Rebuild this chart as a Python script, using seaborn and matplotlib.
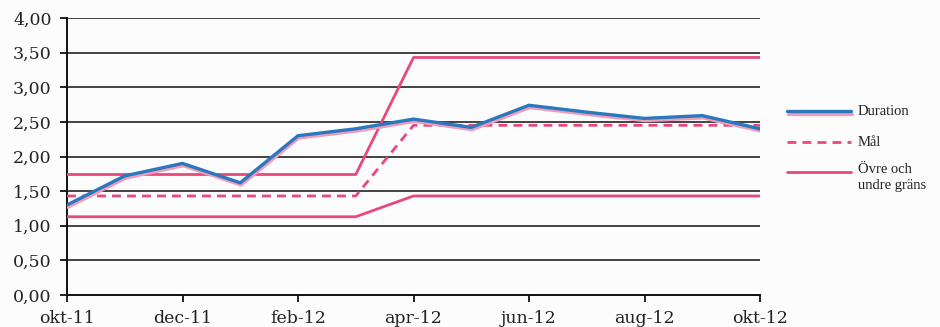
import matplotlib
matplotlib.use("Agg")
import matplotlib.pyplot as plt
import matplotlib.patheffects as pe
from matplotlib.lines import Line2D
from matplotlib.ticker import FuncFormatter, MultipleLocator
import seaborn as sns
import pandas as pd

# Monthly series, Oct 2011 - Oct 2012
months = ["okt-11", "nov-11", "dec-11", "jan-12", "feb-12", "mar-12", "apr-12",
          "maj-12", "jun-12", "jul-12", "aug-12", "sep-12", "okt-12"]
duration = [1.30, 1.72, 1.90, 1.62, 2.30, 2.40, 2.54, 2.42, 2.74, 2.64, 2.55, 2.59, 2.40]
mal = [1.43, 1.43, 1.43, 1.43, 1.43, 1.43, 2.45, 2.45, 2.45, 2.45, 2.45, 2.45, 2.45]
upper = [1.74, 1.74, 1.74, 1.74, 1.74, 1.74, 3.43, 3.43, 3.43, 3.43, 3.43, 3.43, 3.43]
lower = [1.13, 1.13, 1.13, 1.13, 1.13, 1.13, 1.43, 1.43, 1.43, 1.43, 1.43, 1.43, 1.43]
tick_months = ["okt-11", "dec-11", "feb-12", "apr-12", "jun-12", "aug-12", "okt-12"]
legend_labels = ["Duration", "Mål", "Övre och\nundre gräns"]

df = pd.DataFrame({"pos": range(len(months)), "month": months,
                   "duration": duration, "mal": mal, "upper": upper, "lower": lower})

sns.set_theme(style="white")
plt.rcParams["font.family"] = ["DejaVu Serif", "DejaVu Sans"]

PINK = "#e8487e"
BLUE = "#2a78be"
SHADOW = "#f29ab9"

fig = plt.figure(figsize=(9.4, 3.27), dpi=100)
fig.patch.set_facecolor("#fcfcfd")
ax = fig.add_axes([67 / 940, 1 - 295 / 327, (760 - 67) / 940, (295 - 18) / 327])
ax.set_facecolor("#fcfcfd")

# horizontal grid
for v in [0.5 * k for k in range(1, 9)]:
    ax.axhline(v, color="#111111", lw=1.1, zorder=1)

sns.lineplot(data=df, x="pos", y="upper", ax=ax, color=PINK, lw=2.0, zorder=3)
sns.lineplot(data=df, x="pos", y="lower", ax=ax, color=PINK, lw=2.0, zorder=3)
sns.lineplot(data=df, x="pos", y="mal", ax=ax, color=PINK, lw=2.0, zorder=3,
             dashes=False, linestyle=(0, (3.2, 2.2)))
sns.lineplot(data=df, x="pos", y="duration", ax=ax, color=BLUE, lw=2.4, zorder=4,
             path_effects=[pe.SimpleLineShadow(offset=(0.6, -1.6), shadow_color=SHADOW,
                                               alpha=1.0, linewidth=2.4),
                           pe.Normal()])

ax.set_xlim(0, len(months) - 1)
ax.set_ylim(0, 4)
ax.yaxis.set_major_locator(MultipleLocator(0.5))
ax.yaxis.set_major_formatter(FuncFormatter(lambda v, _: f"{v:.2f}".replace(".", ",")))
ax.set_xticks([months.index(m) for m in tick_months])
ax.set_xticklabels(tick_months)
ax.set_xlabel("")
ax.set_ylabel("")

for side in ["top", "right"]:
    ax.spines[side].set_visible(False)
for side in ["left", "bottom"]:
    ax.spines[side].set_color("#111111")
    ax.spines[side].set_linewidth(1.4)
ax.tick_params(axis="both", which="major", direction="out", length=5, width=1.3,
               color="#111111", labelsize=12.5, labelcolor="#222222", pad=6)
ax.tick_params(left=True, bottom=True)

# legend drawn at the right of the plot area
def fx(px):
    return px / 940

def fy(py):
    return 1 - py / 327

h_dur = Line2D([fx(787), fx(851)], [fy(111.5), fy(111.5)], transform=fig.transFigure,
               color=BLUE, lw=2.4,
               path_effects=[pe.SimpleLineShadow(offset=(0.6, -1.6), shadow_color=SHADOW,
                                                 alpha=1.0, linewidth=2.4), pe.Normal()])
h_mal = Line2D([fx(787), fx(851)], [fy(142.5), fy(142.5)], transform=fig.transFigure,
               color=PINK, lw=2.0, linestyle=(0, (3.2, 2.2)))
h_gr = Line2D([fx(787), fx(851)], [fy(171.5), fy(171.5)], transform=fig.transFigure,
              color=PINK, lw=2.0)
for h in (h_dur, h_mal, h_gr):
    fig.add_artist(h)

legend_font = dict(family=["Liberation Serif", "DejaVu Serif"], fontsize=10.5,
                   color="#222222", ha="left")
fig.text(fx(858), fy(111.5), legend_labels[0], va="center", **legend_font)
fig.text(fx(858), fy(142.5), legend_labels[1], va="center", **legend_font)
fig.text(fx(858), fy(163), legend_labels[2], va="top", linespacing=1.3, **legend_font)

fig.savefig("out.png", dpi=100, facecolor=fig.get_facecolor())
